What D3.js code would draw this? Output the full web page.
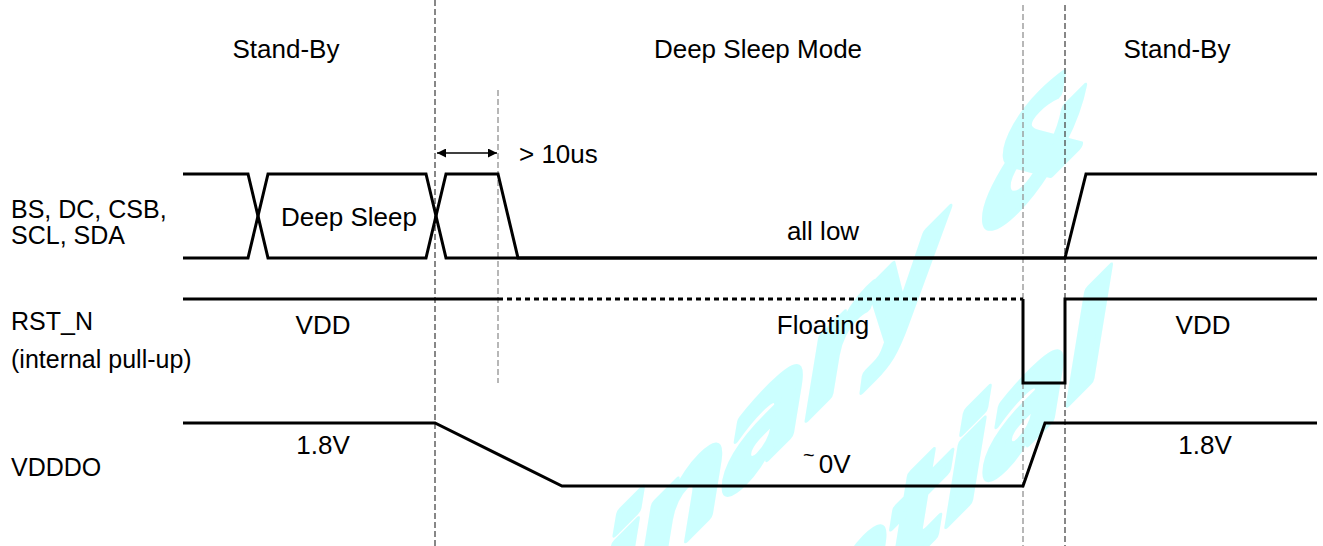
<!DOCTYPE html>
<html>
<head>
<meta charset="utf-8">
<script src="https://cdn.jsdelivr.net/npm/d3@7"></script>
<style>
  body { margin: 0; background: #fff; }
  svg { display: block; }
  .label { font-family: "Liberation Sans", Arial, sans-serif; font-size: 26px; fill: #000; }
  .name { font-size: 25px; }
  .wave { fill: none; stroke: #000; stroke-width: 3; stroke-linejoin: miter; }
  .marker { stroke-width: 1.4; stroke-dasharray: 6,3; }
</style>
</head>
<body>
<div id="chart"></div>
<script>
// time axis runs 0..1134 (arbitrary units), levels 0 = low, 1 = high
const phaseLabels = ['Stand-By', 'Deep Sleep Mode', 'Stand-By'];
const phaseCenters = [103, 575, 994];

const signalNames = [['BS, DC, CSB,', 'SCL, SDA'], ['RST_N', '(internal pull-up)'], ['VDDDO']];

// BS, DC, CSB, SCL, SDA (bus drawn as two crossing lines)
const busA = [[0, 1], [65, 1], [85, 0], [243, 0], [263, 1], [315, 1], [335, 0], [1134, 0]];
const busB = [[0, 0], [65, 0], [85, 1], [243, 1], [263, 0], [882, 0], [903, 1], [1134, 1]];
// RST_N
const rstDriven = [[0, 1], [315, 1]];
const rstFloating = [[315, 1], [840, 1]];
const rstPulse = [[840, 1], [840, 0], [882, 0], [882, 1], [1134, 1]];
// VDDDO
const vdddo = [[0, 1], [252, 1], [379, 0], [840, 0], [862, 1], [1134, 1]];

const markerTimes = [252, 315, 840, 882];
const busLabels = [[166, 'Deep Sleep'], [640, 'all low']];
const rstLabels = [[140, 'VDD'], [640, 'Floating'], [1020, 'VDD']];
const vddLabels = [[140, '1.8V'], [1022, '1.8V']];
const gapTimes = [254, 314];
const gapLabel = '> 10us';
const watermark = ['Preliminary &', 'Confidential'];

class TimingDiagram {
  constructor(div) {
    this.div = div;
    this.width = 1323;
    this.height = 546;
  }

  draw() {
    this.svg = d3.select('#' + this.div)
      .append('svg')
      .attr('width', this.width)
      .attr('height', this.height);
    this.x = d3.scaleLinear().domain([0, 1134]).range([183, 1317]);
    this.lanes = [
      d3.scaleLinear().domain([0, 1]).range([258, 174]),
      d3.scaleLinear().domain([0, 1]).range([383, 299]),
      d3.scaleLinear().domain([0, 1]).range([486, 423])
    ];
    this.addWatermark();
    this.addMarkers();
    this.addWaves();
    this.addText();
  }

  addWatermark() {
    const spots = ['translate(1088,138) skewY(-45)', 'translate(1105,367) skewY(-45)'];
    this.svg.append('g')
      .attr('fill', '#ccffff')
      .attr('stroke', '#ccffff')
      .attr('stroke-width', 7)
      .attr('stroke-linejoin', 'round')
      .style('font-family', '"DejaVu Sans", sans-serif')
      .style('font-weight', 'bold')
      .style('font-style', 'italic')
      .style('font-size', '125px')
      .style('letter-spacing', '-3px')
      .attr('text-anchor', 'end')
      .selectAll('text')
      .data(watermark)
      .join('text')
      .attr('transform', (d, i) => spots[i])
      .text(d => d);
  }

  addMarkers() {
    const tops = [0, 90, 5, 5];
    const bottoms = [546, 383, 546, 546];
    const colors = ['#555', '#999', '#999', '#555'];
    this.svg.selectAll('line.marker')
      .data(markerTimes)
      .join('line')
      .attr('class', 'marker')
      .attr('x1', d => this.x(d))
      .attr('x2', d => this.x(d))
      .attr('y1', (d, i) => tops[i])
      .attr('y2', (d, i) => bottoms[i])
      .attr('stroke', (d, i) => colors[i]);
  }

  addWaves() {
    const waves = [
      { lane: 0, values: busA },
      { lane: 0, values: busB },
      { lane: 1, values: rstDriven },
      { lane: 1, values: rstFloating, dash: '5,4' },
      { lane: 1, values: rstPulse },
      { lane: 2, values: vdddo }
    ];
    waves.forEach(w => {
      const line = d3.line()
        .x(d => this.x(d[0]))
        .y(d => this.lanes[w.lane](d[1]));
      this.svg.append('path')
        .datum(w.values)
        .attr('class', 'wave')
        .attr('stroke-dasharray', w.dash || null)
        .attr('d', line);
    });

    // > 10us double arrow
    const defs = this.svg.append('defs');
    defs.append('marker')
      .attr('id', 'head')
      .attr('viewBox', '0 0 10 10')
      .attr('refX', 10).attr('refY', 5)
      .attr('markerWidth', 13).attr('markerHeight', 9)
      .attr('markerUnits', 'userSpaceOnUse')
      .attr('orient', 'auto-start-reverse')
      .append('path').attr('d', 'M0,0L10,5L0,10Z').attr('fill', '#000');
    this.svg.append('line')
      .attr('x1', this.x(gapTimes[0])).attr('x2', this.x(gapTimes[1]))
      .attr('y1', 153).attr('y2', 153)
      .attr('stroke', '#000').attr('stroke-width', 1.3)
      .attr('marker-start', 'url(#head)')
      .attr('marker-end', 'url(#head)');
  }

  addText() {
    const svg = this.svg;
    svg.selectAll('text.phase')
      .data(phaseLabels)
      .join('text')
      .attr('class', 'label phase')
      .attr('x', (d, i) => this.x(phaseCenters[i]))
      .attr('y', 58)
      .attr('text-anchor', 'middle')
      .text(d => d);

    const nameY = [[218, 244], [330, 368], [476]];
    signalNames.forEach((lines, i) => {
      lines.forEach((s, j) => {
        svg.append('text').attr('class', 'label name')
          .attr('x', 11).attr('y', nameY[i][j]).text(s);
      });
    });

    const put = (items, y) => items.forEach(d => {
      svg.append('text').attr('class', 'label')
        .attr('x', this.x(d[0])).attr('y', y)
        .attr('text-anchor', 'middle').text(d[1]);
    });
    put(busLabels.slice(0, 1), 226);
    put(busLabels.slice(1), 240);
    put(rstLabels, 334);
    put(vddLabels, 454);

    const zero = svg.append('text').attr('class', 'label')
      .attr('x', this.x(620)).attr('y', 473);
    zero.append('tspan').attr('font-size', 20).attr('dy', -11).text('~');
    zero.append('tspan').attr('dx', 4).attr('dy', 11).text('0V');

    svg.append('text').attr('class', 'label')
      .attr('x', this.x(gapTimes[1] + 22)).attr('y', 163).text(gapLabel);
  }
}

new TimingDiagram('chart').draw();
</script>
</body>
</html>
